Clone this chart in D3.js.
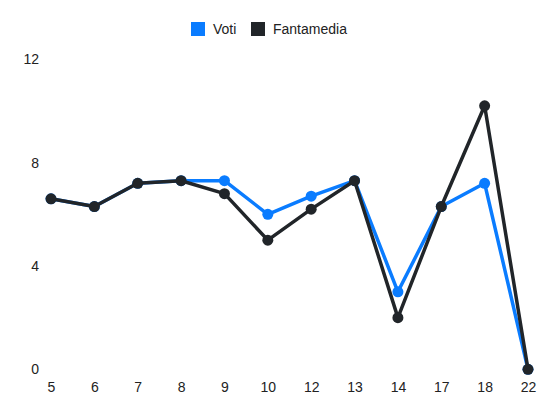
<!DOCTYPE html>
<html>
<head>
<meta charset="utf-8">
<script src="https://cdn.jsdelivr.net/npm/d3@7/dist/d3.min.js"></script>
<style>
html,body{margin:0;padding:0;background:#fff;}
svg{display:block;}
text{font-family:"Liberation Sans",Arial,Helvetica,sans-serif;font-size:14px;fill:#222;}
</style>
</head>
<body>
<svg id="chart" width="550" height="412"></svg>
<script>
const categories = ["5","6","7","8","9","10","12","13","14","17","18","22"];
const voti = [6.6, 6.3, 7.2, 7.3, 7.3, 6.0, 6.7, 7.3, 3.0, 6.3, 7.2, 0];
const fantamedia = [6.6, 6.3, 7.2, 7.3, 6.8, 5.0, 6.2, 7.3, 2.0, 6.3, 10.2, 0];
const yTicks = [0, 4, 8, 12];
const seriesNames = ["Voti", "Fantamedia"];
const colors = ["#0a7cff", "#212529"];

const svg = d3.select("#chart");
const x = d3.scalePoint().domain(categories).range([51, 528]).padding(0);
const y = d3.scaleLinear().domain([0, 12]).range([369.3, 59.3]);

// y axis labels
const yAxis = d3.axisLeft(y).tickValues(yTicks).tickSize(0).tickPadding(0);
const gy = svg.append("g").attr("transform", "translate(39,0)").call(yAxis);
gy.select(".domain").remove();
gy.selectAll("text").attr("font-size", 14).attr("fill", "#222")
  .style("font-family", "'Liberation Sans',Arial,sans-serif");

// x axis labels
const xAxis = d3.axisBottom(x).tickSize(0).tickPadding(0);
const gx = svg.append("g").attr("transform", "translate(0,381.7)").call(xAxis);
gx.select(".domain").remove();
gx.selectAll("text").attr("font-size", 14).attr("fill", "#222")
  .style("font-family", "'Liberation Sans',Arial,sans-serif");

const series = [voti, fantamedia];
const line = d3.line().x((d, i) => x(categories[i])).y(d => y(d));

series.forEach((vals, s) => {
  const g = svg.append("g");
  g.append("path").datum(vals)
    .attr("d", line)
    .attr("fill", "none")
    .attr("stroke", colors[s])
    .attr("stroke-width", 3.5)
    .attr("stroke-linejoin", "round");
  g.selectAll("circle").data(vals).enter().append("circle")
    .attr("cx", (d, i) => x(categories[i]))
    .attr("cy", d => y(d))
    .attr("r", 5.5)
    .attr("fill", colors[s]);
});

// legend
const legendX = [191, 251];
const lg = svg.append("g");
seriesNames.forEach((name, i) => {
  lg.append("rect").attr("x", legendX[i]).attr("y", 22).attr("width", 14).attr("height", 14)
    .attr("fill", colors[i]);
  lg.append("text").attr("x", legendX[i] + 22).attr("y", 34).text(name);
});
</script>
</body>
</html>
